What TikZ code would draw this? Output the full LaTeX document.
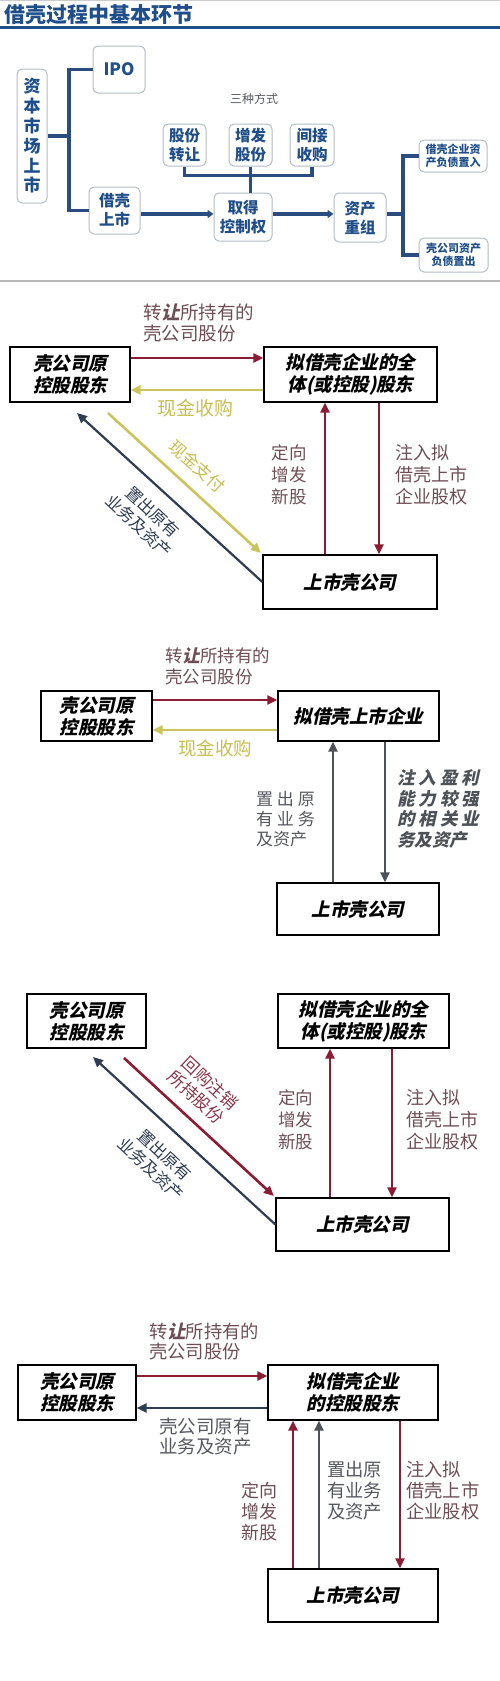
\documentclass[tikz,border=0pt]{standalone}
\usepackage{fontspec}
\newfontfamily\cjk{Noto Sans CJK SC}
\newfontfamily\cjkit{Noto Sans CJK SC}[FakeSlant=0.22]
\usetikzlibrary{arrows.meta}
\definecolor{tblue}{HTML}{1F4E8A}
\definecolor{lblue}{HTML}{2B4C7E}
\definecolor{bgray}{HTML}{B4BCC4}
\definecolor{dred}{HTML}{8C1C34}
\definecolor{rtext}{HTML}{6E4E56}
\definecolor{rred}{HTML}{8A3448}
\definecolor{ylw}{HTML}{CBC45C}
\definecolor{ytext}{HTML}{C6BE4E}
\definecolor{slate}{HTML}{2E3D52}
\definecolor{dgray}{HTML}{4D5158}
\definecolor{gtext}{HTML}{55585E}
\tikzset{
  rbox/.style={draw=bgray, line width=1pt, rounded corners=5pt, fill=white,
    text=tblue, align=center, inner sep=0pt,
    font=\cjk\bfseries\fontsize{15.5}{19}\selectfont},
  tree/.style={draw=lblue, line width=3.2pt},
  treearr/.style={tree, -{Triangle[length=6pt,width=8pt]}},
  sbox/.style={draw=black, line width=1.3pt, fill=white, inner sep=0pt,
    align=center, font=\cjkit\bfseries\fontsize{18.5}{22}\selectfont},
  flow/.style={line width=2.6pt, -{Triangle[length=10pt,width=9pt]}},
  lbl/.style={align=left, inner sep=0pt, text=rtext,
    font=\cjk\fontsize{18}{21}\selectfont},
  slant/.style={inner sep=0pt, rotate=-43, font=\cjk\fontsize{16.5}{20}\selectfont},
}
\begin{document}
\begin{tikzpicture}[x=1pt,y=-1pt]
  \useasboundingbox (0,0) rectangle (500,1681);
  % heading
  \draw[gray!40, line width=1pt] (0,0.5) -- (500,0.5);
  \node[anchor=west, inner sep=0pt, text=tblue,
    font=\cjk\bfseries\fontsize{21}{24}\selectfont] (title) at (4,15) {借壳过程中基本环节};
  \draw[tblue, line width=3pt] (0,27.5) -- (500,27.5);

  % part 1: overview
  \node[rbox, minimum width=30pt, minimum height=134pt,
    font=\cjk\bfseries\fontsize{17}{19.8}\selectfont] (zbsc) at (32,136) {资\\本\\市\\场\\上\\市};
  \node[rbox, minimum width=52pt, minimum height=47pt,
    font=\cjk\bfseries\fontsize{17}{20}\selectfont] (ipo) at (119,69.5) {IPO};
  \node[rbox, minimum width=51pt, minimum height=47pt] (jksh) at (114.5,210.5) {借壳\\上市};
  \node[rbox, minimum width=43pt, minimum height=42pt] (gfzr) at (184.5,145) {股份\\转让};
  \node[rbox, minimum width=43pt, minimum height=42pt] (zfgf) at (250.5,145) {增发\\股份};
  \node[rbox, minimum width=44pt, minimum height=42pt] (jjsg) at (312,145) {间接\\收购};
  \node[rbox, minimum width=58pt, minimum height=48pt] (qdkzq) at (243,217) {取得\\控制权};
  \node[rbox, minimum width=52pt, minimum height=49pt] (zccz) at (360,217.5) {资产\\重组};
  \node[rbox, minimum width=68pt, minimum height=32pt,
    font=\cjk\bfseries\fontsize{11}{13}\selectfont] (zrbox) at (453,156) {借壳企业资\\产负债置入};
  \node[rbox, minimum width=69pt, minimum height=34pt,
    font=\cjk\bfseries\fontsize{11}{13}\selectfont] (zcbox) at (453.5,255) {壳公司资产\\负债置出};
  \node[text=gtext, font=\cjk\fontsize{12}{14}\selectfont] (szfs) at (254,99) {三种方式};
  \coordinate (sp1) at (69,0);
  \coordinate (sp2) at (403,0);
  \draw[tree] (ipo.west) -| (sp1 |- jksh.west) -- (jksh.west);
  \draw[tree] (zbsc.east) -- (sp1 |- zbsc.east);
  \draw[treearr] (jksh.east |- 0,214) -- (qdkzq.west |- 0,214);
  \draw[treearr] (qdkzq.east |- 0,214) -- (zccz.west |- 0,214);
  \draw[tree] (gfzr.south) -- ++(0,9) -| (jjsg.south);
  \draw[tree] (zfgf.south) -- (zfgf.south |- qdkzq.north);
  \draw[tree] (zrbox.west) -| (sp2 |- zcbox.west) -- (zcbox.west);
  \draw[tree] (zccz.east |- 0,214) -- (sp2 |- 0,214);

  \draw[gray!55, line width=1.5pt] (0,281) -- (500,281);

  % part 2
  \node[sbox, minimum width=120pt, minimum height=55pt] (A2) at (70,374.5) {壳公司原\\控股股东};
  \node[sbox, minimum width=173pt, minimum height=55pt] (B2) at (350.5,374.5) {拟借壳企业的全\\体(或控股)股东};
  \node[sbox, minimum width=174pt, minimum height=54pt] (C2) at (350,582) {上市壳公司};
  \coordinate (s2d) at (77,413);
  \coordinate (s2y) at (108,413);
  \draw[flow, dred] (A2.east |- 0,358) -- (B2.west |- 0,358);
  \draw[flow, ylw] (B2.west |- 0,390) -- (A2.east |- 0,390);
  \draw[flow, slate, line width=2.2pt] (C2.west) -- (s2d);
  \draw[flow, ylw, shorten >=2pt] (s2y) -- (C2.north west);
  \draw[flow, dred] (C2.north -| 325,0) -- (B2.south -| 325,0);
  \draw[flow, dred] (B2.south -| 379,0) -- (C2.north -| 379,0);
  \node[lbl, anchor=west, font=\cjk\fontsize{18.5}{20.5}\selectfont] (t2a) at (143,323) {转{\cjkit\bfseries 让}所持有的\\壳公司股份};
  \node[lbl, text=ytext, font=\cjk\fontsize{19}{21}\selectfont] (t2b) at (195,408) {现金收购};
  \node[slant, text=ytext, rotate=1, font=\cjk\fontsize{17}{20}\selectfont] (t2c) at (197,466) {现金支付};
  \node[slant, text=slate] (t2d) at (153,512) {置出原有};
  \node[slant, text=slate] (t2e) at (139,526) {业务及资产};
  \node[lbl, font=\cjk\fontsize{17.5}{22}\selectfont] (t2f) at (289,475) {定向\\增发\\新股};
  \node[lbl, anchor=west, font=\cjk\fontsize{18}{22}\selectfont] (t2g) at (395,475) {注入拟\\借壳上市\\企业股权};

  % part 3
  \node[sbox, minimum width=111pt, minimum height=50pt] (A3) at (96.5,716) {壳公司原\\控股股东};
  \node[sbox, minimum width=161pt, minimum height=50pt] (B3) at (358.5,716) {拟借壳上市企业};
  \node[sbox, minimum width=162pt, minimum height=52pt] (C3) at (358,909) {上市壳公司};
  \draw[flow, dred] (A3.east |- 0,700) -- (B3.west |- 0,700);
  \draw[flow, ylw] (B3.west |- 0,730) -- (A3.east |- 0,730);
  \draw[flow, dgray] (C3.north -| 333,0) -- (B3.south -| 333,0);
  \draw[flow, dgray] (B3.south -| 385,0) -- (C3.north -| 385,0);
  \node[lbl, anchor=west, font=\cjk\fontsize{17.5}{21}\selectfont] (t3a) at (165,666.5) {转{\cjkit\bfseries 让}所持有的\\壳公司股份};
  \node[lbl, text=ytext, font=\cjk\fontsize{18.5}{21}\selectfont] (t3b) at (215,748) {现金收购};
  \node[lbl, anchor=west, text=gtext, font=\cjk\fontsize{17}{20}\selectfont] (t3c) at (256,819) {置 出 原\\有 业 务\\及资产};
  \node[lbl, anchor=west, text=dgray, font=\cjkit\bfseries\fontsize{17.5}{20.7}\selectfont] (t3d) at (397,809) {注 入 盈 利\\能 力 较 强\\的 相 关 业\\务及资产};

  % part 4
  \node[sbox, minimum width=119pt, minimum height=54pt] (A4) at (86.5,1021) {壳公司原\\控股股东};
  \node[sbox, minimum width=171pt, minimum height=54pt] (B4) at (363.5,1021) {拟借壳企业的全\\体(或控股)股东};
  \node[sbox, minimum width=173pt, minimum height=53pt] (C4) at (362.5,1224.5) {上市壳公司};
  \coordinate (s4d) at (93,1057);
  \coordinate (s4r) at (124,1058);
  \draw[flow, slate, line width=2.2pt] (C4.west) -- (s4d);
  \draw[flow, dred, shorten >=2pt] (s4r) -- (C4.north west);
  \draw[flow, dred] (C4.north -| 330,0) -- (B4.south -| 330,0);
  \draw[flow, dred] (B4.south -| 392,0) -- (C4.north -| 392,0);
  \node[slant, text=rred, font=\cjk\fontsize{17}{20}\selectfont] (t4a) at (210,1083) {回购注销};
  \node[slant, text=rred, font=\cjk\fontsize{17}{20}\selectfont] (t4b) at (196,1097) {所持股份};
  \node[slant, text=slate] (t4c) at (165,1155) {置出原有};
  \node[slant, text=slate] (t4d) at (151,1169) {业务及资产};
  \node[lbl, font=\cjk\fontsize{17.5}{22}\selectfont] (t4e) at (295.5,1120) {定向\\增发\\新股};
  \node[lbl, anchor=west, font=\cjk\fontsize{18}{22}\selectfont] (t4f) at (406,1120) {注入拟\\借壳上市\\企业股权};

  % part 5
  \node[sbox, minimum width=118pt, minimum height=55pt] (A5) at (77,1392.5) {壳公司原\\控股股东};
  \node[sbox, minimum width=170pt, minimum height=55pt] (B5) at (353,1392.5) {拟借壳企业\\的控股股东};
  \node[sbox, minimum width=170pt, minimum height=53pt] (C5) at (353,1595.5) {上市壳公司};
  \draw[flow, dred] (A5.east |- 0,1376) -- (B5.west |- 0,1376);
  \draw[flow, slate] (B5.west |- 0,1408) -- (A5.east |- 0,1408);
  \draw[flow, dred] (C5.north -| 293,0) -- (B5.south -| 293,0);
  \draw[flow, dgray] (C5.north -| 319,0) -- (B5.south -| 319,0);
  \draw[flow, dred] (B5.south -| 400,0) -- (C5.north -| 400,0);
  \node[lbl, anchor=west, font=\cjk\fontsize{18.3}{20}\selectfont] (t5a) at (149,1342) {转{\cjkit\bfseries 让}所持有的\\壳公司股份};
  \node[lbl, anchor=west, text=gtext, font=\cjk\fontsize{18.5}{20}\selectfont] (t5b) at (159,1437) {壳公司原有\\业务及资产};
  \node[lbl, font=\cjk\fontsize{18}{21}\selectfont] (t5c) at (259,1512) {定向\\增发\\新股};
  \node[lbl, anchor=west, text=gtext, font=\cjk\fontsize{18.3}{21}\selectfont] (t5d) at (327,1491) {置出原\\有业务\\及资产};
  \node[lbl, anchor=west, font=\cjk\fontsize{18.3}{21}\selectfont] (t5e) at (406,1491) {注入拟\\借壳上市\\企业股权};
\end{tikzpicture}
\end{document}
